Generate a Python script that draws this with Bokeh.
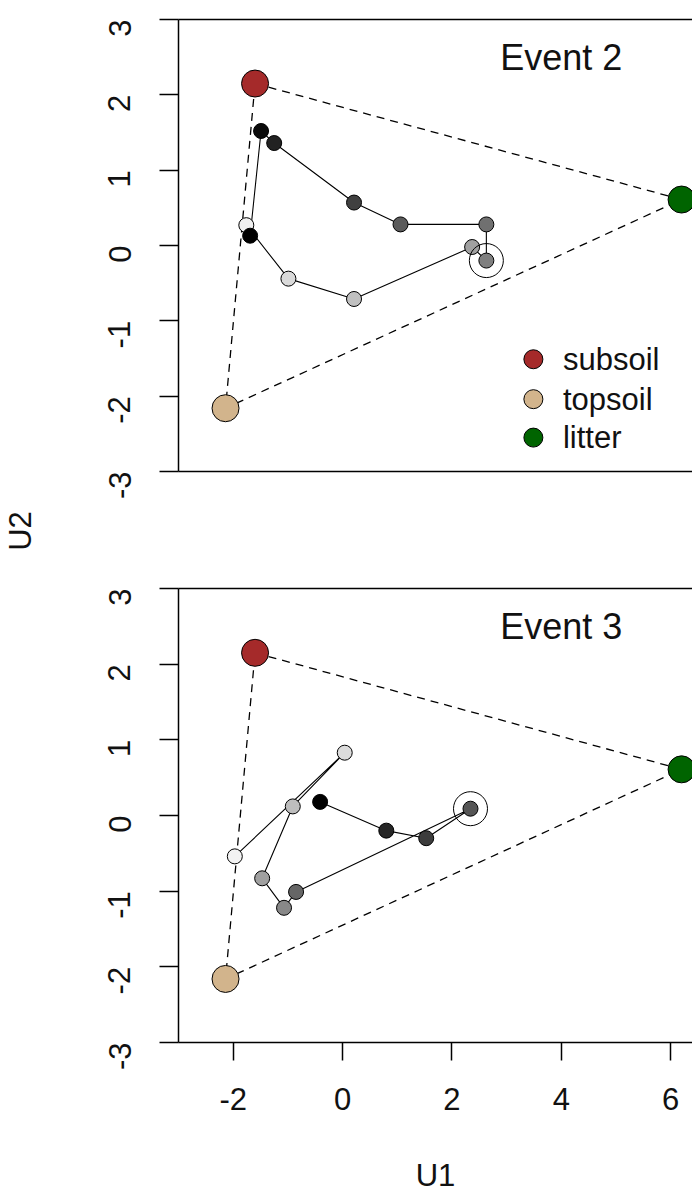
import math
from bokeh.plotting import figure
from bokeh.models import Range1d, LinearAxis, FixedTicker, Title, ColumnDataSource
from bokeh.layouts import column, row
from bokeh.embed import file_html
from bokeh.resources import INLINE
from bokeh.core.properties import value

# ---------------- data ----------------
endmember_names = ["subsoil", "topsoil", "litter"]
endmember_u1 = [-1.60, -2.14, 6.20]
endmember_u2 = [2.15, -2.16, 0.61]
endmember_colors = ["#a52a2a", "#d2b48c", "#006400"]

event_titles = ["Event 2", "Event 3"]

event2_u1 = [-1.69, -1.49, -1.25, 0.21, 1.06, 2.63, 2.63, 2.37, 0.21, -0.99, -1.76]
event2_u2 = [0.13, 1.52, 1.36, 0.57, 0.28, 0.28, -0.20, -0.02, -0.71, -0.44, 0.27]
event2_fill = ["#000000", "#0a0a0a", "#222222", "#404040", "#5a5a5a", "#707070",
               "#7f7f7f", "#a0a0a0", "#c0c0c0", "#dadada", "#f0f0f0"]
event2_peak = 6

event3_u1 = [-0.41, 0.80, 1.53, 2.34, -0.85, -1.07, -1.47, -0.91, 0.04, -1.97]
event3_u2 = [0.18, -0.20, -0.30, 0.09, -1.01, -1.22, -0.83, 0.12, 0.83, -0.54]
event3_fill = ["#000000", "#262626", "#3c3c3c", "#555555", "#666666", "#888888",
               "#a0a0a0", "#bdbdbd", "#dcdcdc", "#f2f2f2"]
event3_peak = 3

x_ticks = [-2, 0, 2, 4, 6]
y_ticks = [-3, -2, -1, 0, 1, 2, 3]
x_label = "U1"
y_label = "U2"

# ---------------- style / layout ----------------
FONT = "Liberation Sans"
TXT = "#111111"
X_START, X_END = -3.0, 6.4
Y_START, Y_END = -3.0, 3.0
LABEL_W = 44
W = 692 - LABEL_W
LEFT = 178 - LABEL_W
TICK_FS = "31px"
LINE_W = 1.5

TITLE_POS = (4.0, 2.5)
LEGEND_MARK_U1 = 3.49
LEGEND_TEXT_U1 = 4.03
LEGEND_U2 = [-1.51, -2.04, -2.55]


def hyphen_labels(ticks):
    return {t: str(t) for t in ticks}


def border_axis():
    return LinearAxis(ticker=FixedTicker(ticks=[]), axis_line_width=LINE_W,
                      axis_line_color="black", major_tick_out=0, major_tick_in=0,
                      minor_tick_line_color=None, major_label_standoff=0)


def make_panel(u1, u2, fills, peak, title, height, top, bottom, x_axis, legend):
    p = figure(width=W, height=height, x_range=Range1d(X_START, X_END),
               y_range=Range1d(Y_START, Y_END), x_axis_type=None, y_axis_type=None,
               output_backend="svg", toolbar_location=None,
               min_border_left=LEFT, min_border_right=0,
               min_border_top=top, min_border_bottom=bottom)
    p.outline_line_color = None
    p.background_fill_color = "white"
    p.border_fill_color = "white"

    yax = LinearAxis(ticker=FixedTicker(ticks=y_ticks), axis_line_width=LINE_W,
                     major_tick_line_width=LINE_W, major_tick_out=19, major_tick_in=0,
                     minor_tick_line_color=None, major_label_orientation=math.pi / 2,
                     major_label_overrides=hyphen_labels(y_ticks),
                     major_label_text_font=FONT, major_label_text_font_size=TICK_FS,
                     major_label_text_color=TXT, major_label_standoff=40)
    p.add_layout(yax, "left")
    p.add_layout(border_axis(), "above")
    if x_axis:
        xax = LinearAxis(ticker=FixedTicker(ticks=x_ticks), axis_line_width=LINE_W,
                         major_tick_line_width=LINE_W, major_tick_out=18, major_tick_in=0,
                         minor_tick_line_color=None, major_label_text_font=FONT,
                         major_label_overrides=hyphen_labels(x_ticks),
                         major_label_text_font_size=TICK_FS, major_label_text_color=TXT,
                         major_label_standoff=27, axis_label=x_label,
                         axis_label_text_font=FONT, axis_label_text_font_size=TICK_FS,
                         axis_label_text_font_style="normal", axis_label_text_color=TXT,
                         axis_label_standoff=45)
        p.add_layout(xax, "below")
    else:
        p.add_layout(border_axis(), "below")

    # mixing triangle (subsoil -> litter -> topsoil -> subsoil)
    order = [0, 2, 1, 0]
    p.line([endmember_u1[i] for i in order], [endmember_u2[i] for i in order],
           line_color="black", line_width=1.3, line_dash="8 6")

    # event path
    p.line(u1, u2, line_color="black", line_width=1.1)
    src = ColumnDataSource(dict(x=u1[::-1], y=u2[::-1], c=fills[::-1]))
    p.scatter("x", "y", source=src, size=15, fill_color="c",
              line_color="black", line_width=1)
    # peak ring
    p.scatter([u1[peak]], [u2[peak]], size=34, fill_color=None,
              line_color="black", line_width=1)

    # end members
    p.scatter(endmember_u1, endmember_u2, size=27, fill_color=endmember_colors,
              line_color="black", line_width=1)

    p.text([TITLE_POS[0]], [TITLE_POS[1]], text=[title], text_font=value(FONT),
           text_font_size="36px", text_align="center", text_baseline="middle",
           text_color=TXT)

    if legend:
        p.scatter([LEGEND_MARK_U1] * len(endmember_names), LEGEND_U2, size=19,
                  fill_color=endmember_colors, line_color="black", line_width=1)
        p.text([LEGEND_TEXT_U1] * len(endmember_names), LEGEND_U2, text=endmember_names,
               text_font=value(FONT), text_font_size=TICK_FS, text_align="left",
               text_baseline="middle", text_color=TXT)
    return p


H1, TOP1, BOT1 = 560, 19, 89
H2, TOP2, BOT2 = 635, 28, 153

p1 = make_panel(event2_u1, event2_u2, event2_fill, event2_peak, event_titles[0],
                H1, TOP1, BOT1, x_axis=False, legend=True)
p2 = make_panel(event3_u1, event3_u2, event3_fill, event3_peak, event_titles[1],
                H2, TOP2, BOT2, x_axis=True, legend=False)

# shared y-axis label: a narrow strip whose frame spans both panels
strip = figure(width=LABEL_W, height=H1 + H2, x_axis_type=None, y_axis_type=None,
               output_backend="svg", toolbar_location=None,
               min_border_left=0, min_border_right=0,
               min_border_top=TOP1, min_border_bottom=BOT2)
strip.outline_line_color = None
strip.add_layout(Title(text=y_label, align="center", text_font=FONT,
                       text_font_size=TICK_FS, text_font_style="normal",
                       text_color=TXT, standoff=0, offset=0), "left")

layout = row(strip, column(p1, p2))
open("out.html", "w").write(file_html(layout, INLINE))
